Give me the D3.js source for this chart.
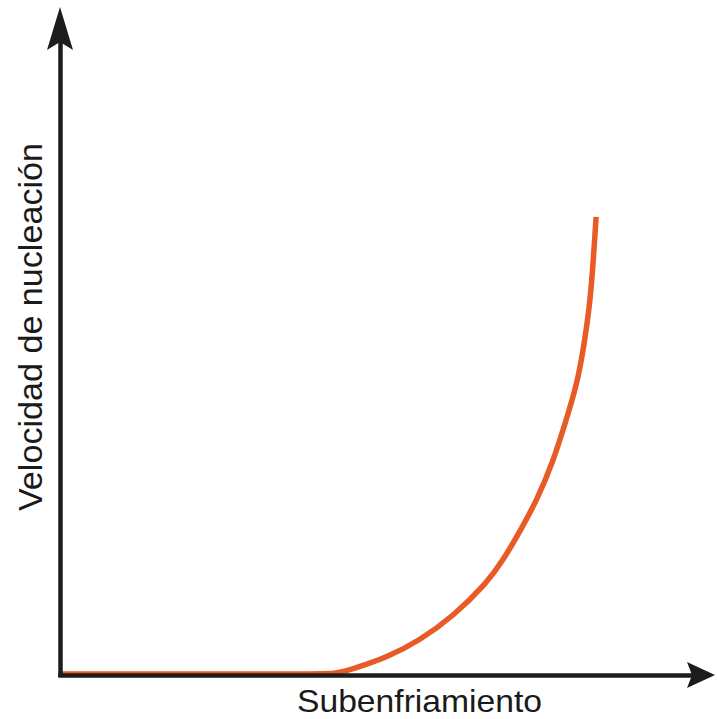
<!DOCTYPE html>
<html>
<head>
<meta charset="utf-8">
<script src="https://cdn.jsdelivr.net/npm/d3@7"></script>
<style>
  html, body { margin: 0; padding: 0; background: #ffffff; }
  svg { display: block; }
</style>
</head>
<body>
<script>
// ---- Data (arbitrary units) ----
const subcooling = [0, 40.0, 43.65, 46.5, 51.9, 57.1, 62.4, 67.8, 70.3, 73.0, 75.7, 78.3, 80.2, 82.1, 83.2, 84.0, 84.5, 85.1];
const nucleationRate = [0, 0, 0, 0.8, 2.6, 5.3, 9.1, 14.4, 17.9, 22.5, 27.4, 33.6, 39.6, 45.8, 52.0, 57.6, 63.0, 72.1];
const xLabel = "Subenfriamiento";
const yLabel = "Velocidad de nucleación";

const W = 717, H = 719;
const svg = d3.select("body").append("svg").attr("width", W).attr("height", H);
svg.append("rect").attr("width", W).attr("height", H).attr("fill", "#ffffff");

const xs = d3.scaleLinear().domain([0, 100]).range([60, 690]);
const ys = d3.scaleLinear().domain([0, 100]).range([674, 40]);

const pts = subcooling.map((v, i) => [v, nucleationRate[i]]);

// curve (drawn below axes)
svg.append("path")
  .datum(pts)
  .attr("fill", "none")
  .attr("stroke", "#e85a26")
  .attr("stroke-width", 5.5)
  .attr("stroke-linecap", "butt")
  .attr("stroke-linejoin", "round")
  .attr("d", d3.line().x(d => xs(d[0])).y(d => ys(d[1])).curve(d3.curveBasis));

const axisColor = "#1c1c1c";
// x axis
const gx = svg.append("g").attr("transform", `translate(0,${ys(0) + 1})`)
  .call(d3.axisBottom(xs).tickValues([]).tickSizeOuter(0));
gx.select(".domain").attr("stroke", axisColor).attr("stroke-width", 4.5).attr("stroke-linecap", "square");
// y axis
const gy = svg.append("g").attr("transform", `translate(${xs(0)},0)`)
  .call(d3.axisLeft(ys).tickValues([]).tickSizeOuter(0));
gy.select(".domain").attr("stroke", axisColor).attr("stroke-width", 4.5).attr("stroke-linecap", "square");

// arrowheads
const xEnd = xs.range()[1], yAx = ys(0) + 1;
svg.append("path")
  .attr("d", `M${xEnd + 25},${yAx} L${xEnd - 3},${yAx - 13} L${xEnd + 2},${yAx} L${xEnd - 3},${yAx + 13} Z`)
  .attr("fill", axisColor);
const yEnd = ys.range()[1], xAx = xs(0);
svg.append("path")
  .attr("d", `M${xAx},${yEnd - 33} L${xAx - 13},${yEnd + 10} L${xAx},${yEnd + 2} L${xAx + 13},${yEnd + 10} Z`)
  .attr("fill", axisColor);

// labels
svg.append("text")
  .attr("x", 419.5).attr("y", 712)
  .attr("text-anchor", "middle")
  .attr("font-family", "Liberation Sans, Arial, sans-serif")
  .attr("font-size", 32)
  .attr("fill", "#1a1a1a")
  .attr("textLength", 245).attr("lengthAdjust", "spacingAndGlyphs")
  .text(xLabel);

svg.append("text")
  .attr("transform", "translate(42,327) rotate(-90)")
  .attr("text-anchor", "middle")
  .attr("font-family", "Liberation Sans, Arial, sans-serif")
  .attr("font-size", 33)
  .attr("fill", "#1a1a1a")
  .attr("textLength", 368).attr("lengthAdjust", "spacingAndGlyphs")
  .text(yLabel);
</script>
</body>
</html>
